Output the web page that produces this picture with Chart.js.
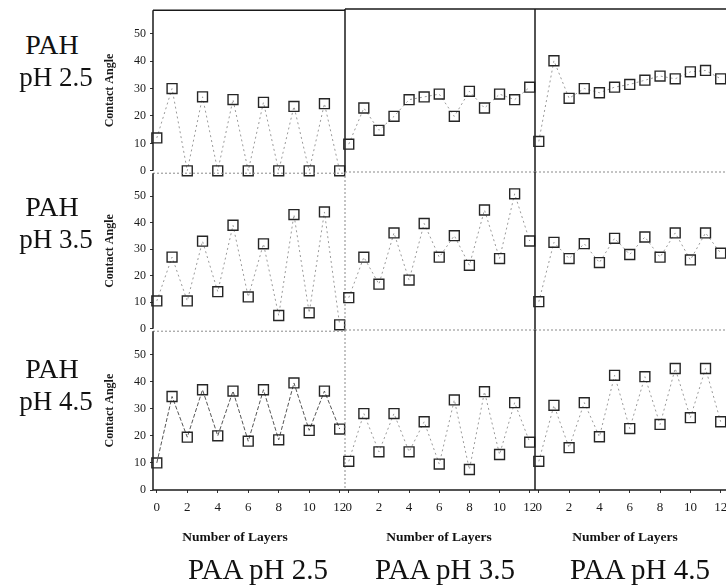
<!DOCTYPE html>
<html>
<head>
<meta charset="utf-8">
<script src="https://cdn.jsdelivr.net/npm/chart.js@4.4.1/dist/chart.umd.min.js"></script>
<style>
  body { margin: 0; background: #fff; }
  #wrap { position: relative; width: 726px; height: 588px; overflow: hidden;
          font-family: "Liberation Serif", "Times New Roman", serif; color: #111; }
  #wrap canvas { position: absolute; }
  .lbl { position: absolute; white-space: nowrap; transform: translate(-50%, -50%); line-height: 1; }
  .row-lbl { font-size: 27px; }
  .row-lbl.b { font-size: 28px; }
  .axis-lbl { font-size: 13.5px; font-weight: bold; }
  .col-lbl { font-size: 29px; }
</style>
</head>
<body>
<div id="wrap"></div>
<script>
  // layer number on x, contact angle on y
  const layers = [0, 1, 2, 3, 4, 5, 6, 7, 8, 9, 10, 11, 12];
  const xTicks = [0, 2, 4, 6, 8, 10, 12];
  const yTicks = [0, 10, 20, 30, 40, 50];
  const rowLabels = ['pH 2.5', 'pH 3.5', 'pH 4.5'];           // PAH
  const colLabels = ['PAA pH 2.5', 'PAA pH 3.5', 'PAA pH 4.5'];

  // PAH pH 2.5
  const pah25_paa25 = [12, 30, 0, 27, 0, 26, 0, 25, 0, 23.5, 0, 24.5, 0];
  const pah25_paa35 = [10, 23, 15, 20, 26, 27, 28, 20, 29, 23, 28, 26, 30.5];
  const pah25_paa45 = [11, 40, 26.5, 30, 28.5, 30.5, 31.5, 33, 34.5, 33.5, 36, 36.5, 33.5];
  // PAH pH 3.5
  const pah35_paa25 = [10.5, 27, 10.5, 33, 14, 39, 12, 32, 5, 43, 6, 44, 1.5];
  const pah35_paa35 = [12, 27, 17, 36, 18.5, 39.5, 27, 35, 24, 44.5, 26.5, 50.5, 33];
  const pah35_paa45 = [10.5, 32.5, 26.5, 32, 25, 34, 28, 34.5, 27, 36, 26, 36, 28.5];
  // PAH pH 4.5
  const pah45_paa25 = [10, 34.5, 19.5, 37, 20, 36.5, 18, 37, 18.5, 39.5, 22, 36.5, 22.5];
  const pah45_paa35 = [10.5, 28, 14, 28, 14, 25, 9.5, 33, 7.5, 36, 13, 32, 17.5];
  const pah45_paa45 = [10.5, 31, 15.5, 32, 19.5, 42, 22.5, 41.5, 24, 44.5, 26.5, 44.5, 25];

  const panels = [
    [pah25_paa25, pah25_paa35, pah25_paa45],
    [pah35_paa25, pah35_paa35, pah35_paa45],
    [pah45_paa25, pah45_paa35, pah45_paa45]
  ];

  // plot box edges in page pixels
  const colEdge = [153, 345, 535, 726];
  const rowEdge = [9, 172, 330, 490];
  const PAD = 10, AXIS_W = 50, AXIS_H = 26;
  const FONT = '"Liberation Serif", "Times New Roman", serif';

  // draws the panel frame: solid outer lines, dotted inner dividers
  const framePlugin = {
    id: 'frame',
    beforeDatasetsDraw(chart, args, opts) {
      const { ctx, chartArea: a } = chart;
      const line = (x1, y1, x2, y2, solid) => {
        ctx.save();
        ctx.beginPath();
        ctx.strokeStyle = solid ? '#1a1a1a' : '#8a8a8a';
        ctx.lineWidth = solid ? 1.5 : 1;
        ctx.setLineDash(solid ? [] : [2, 2]);
        ctx.moveTo(x1, y1); ctx.lineTo(x2, y2);
        ctx.stroke();
        ctx.restore();
      };
      if (opts.top) line(a.left, a.top, a.right, a.top, opts.top === 'solid');
      if (opts.left) line(a.left, a.top, a.left, a.bottom, opts.left === 'solid');
      if (opts.bottom) line(a.left, a.bottom, a.right, a.bottom, opts.bottom === 'solid');
    }
  };

  const wrap = document.getElementById('wrap');

  function addLabel(text, cls, x, y) {
    const d = document.createElement('div');
    d.className = 'lbl ' + cls;
    d.textContent = text;
    d.style.left = x + 'px';
    d.style.top = y + 'px';
    wrap.appendChild(d);
  }

  for (let r = 0; r < 3; r++) {
    for (let c = 0; c < 3; c++) {
      const axisW = c === 0 ? AXIS_W : 0;
      const axisH = r === 2 ? AXIS_H : 0;
      const W = colEdge[c + 1] - colEdge[c] + 2 * PAD + axisW;
      const H = rowEdge[r + 1] - rowEdge[r] + 2 * PAD + axisH;
      const cv = document.createElement('canvas');
      cv.width = W; cv.height = H;
      cv.style.left = (colEdge[c] - PAD - axisW) + 'px';
      cv.style.top = (rowEdge[r] - PAD) + 'px';
      cv.style.width = W + 'px'; cv.style.height = H + 'px';
      wrap.appendChild(cv);

      const vals = panels[r][c];
      // the PAH 4.5 / PAA 2.5 trace is printed darker than the rest
      const dark = r === 2 && c === 0;
      new Chart(cv, {
        type: 'line',
        data: {
          datasets: [{
            data: layers.map((x, i) => ({ x, y: vals[i] })),
            borderColor: dark ? '#555' : '#9a9a9a',
            borderWidth: 1,
            borderDash: dark ? [4, 2] : [2, 3],
            pointStyle: 'rect',
            pointRadius: 7,
            pointBorderWidth: 1.4,
            pointBorderColor: '#262626',
            pointBackgroundColor: 'rgba(0,0,0,0)',
            tension: 0,
            clip: false
          }]
        },
        plugins: [framePlugin],
        options: {
          responsive: false,
          animation: false,
          devicePixelRatio: 1,
          layout: { padding: { left: PAD, right: PAD, top: PAD, bottom: PAD } },
          plugins: {
            legend: { display: false },
            tooltip: { enabled: false },
            frame: {
              top: r === 0 ? 'solid' : 'dot',
              left: (c === 0 || c === 2 || r === 0) ? 'solid' : 'dot',
              bottom: r === 2 ? 'solid' : null
            }
          },
          scales: {
            x: {
              type: 'linear',
              min: -0.25, max: 12.35,
              display: r === 2,
              afterFit: s => { s.height = axisH; },
              afterBuildTicks: s => { s.ticks = xTicks.map(v => ({ value: v })); },
              border: { display: false },
              grid: { display: true, drawOnChartArea: false, drawTicks: true, tickLength: 3, color: '#333' },
              ticks: { autoSkip: false, maxRotation: 0, padding: 7, color: '#1a1a1a',
                       font: { family: FONT, size: 13 } }
            },
            y: {
              min: 0, max: 58.6,
              display: c === 0,
              afterFit: s => { s.width = axisW; },
              afterBuildTicks: s => { s.ticks = yTicks.map(v => ({ value: v })); },
              border: { display: false },
              grid: { display: true, drawOnChartArea: false, drawTicks: true, tickLength: 3, color: '#333' },
              ticks: { padding: 4, color: '#1a1a1a', font: { family: FONT, size: 12 } },
              title: { display: true, text: 'Contact Angle', color: '#1a1a1a', padding: 0,
                       font: { family: FONT, size: 12, weight: 'bold' } }
            }
          }
        }
      });
    }
  }

  // PAH row labels on the left
  const rowMid = [60, 222, 384];
  rowLabels.forEach((t, i) => {
    addLabel('PAH', 'row-lbl b', 52, rowMid[i] - 15);
    addLabel(t, 'row-lbl', 56, rowMid[i] + 17);
  });
  // x axis titles and PAA column labels
  const axisMid = [235, 439, 625];
  const colMid = [258, 445, 640];
  colLabels.forEach((t, i) => {
    addLabel('Number of Layers', 'axis-lbl', axisMid[i], 537);
    addLabel(t, 'col-lbl', colMid[i], 569);
  });
</script>
</body>
</html>
